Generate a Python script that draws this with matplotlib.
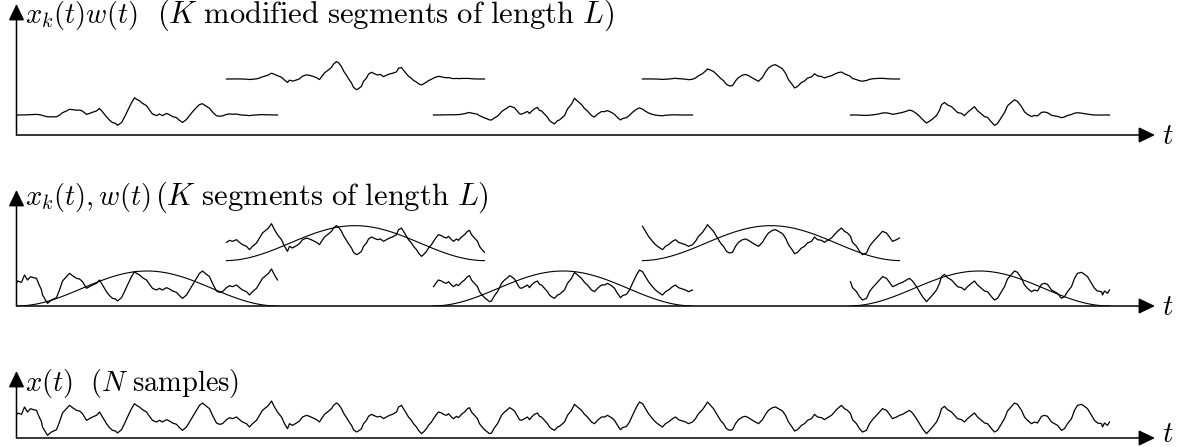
import numpy as np
import matplotlib
matplotlib.use("Agg")
import matplotlib.pyplot as plt
from matplotlib.patches import ArrowStyle

plt.rcParams["mathtext.fontset"] = "cm"

# Recorded signal x(t): sample time and amplitude (arbitrary units)
t_vals = [
    0, 1, 5, 8, 11, 14, 17, 20, 22, 25, 26, 29, 31, 35, 40, 43, 46, 50, 53, 56,
    60, 63, 66, 70, 73, 76, 80, 83, 86, 90, 93, 96, 99, 101, 105, 108, 111, 115, 118, 120,
    123, 126, 130, 133, 136, 140, 143, 146, 150, 153, 156, 160, 163, 166, 170, 173, 176, 180, 183, 186,
    190, 193, 196, 200, 203, 206, 210, 213, 216, 220, 223, 226, 230, 233, 236, 240, 243, 246, 250, 252,
    255, 258, 261, 265, 268, 271,
    273, 276, 280, 283, 286, 290, 293, 296, 300, 303, 305, 308, 311, 315, 317, 320, 322, 325, 327, 330,
    332, 335, 337, 340, 342, 345, 347, 350, 352, 355, 357, 361, 364, 367, 370, 373, 376, 380, 382, 385,
    387, 390, 392, 395, 397, 400, 402, 405, 407, 410, 412, 415, 417, 420, 422, 425, 427, 430, 432, 435,
    437, 440, 442, 445, 448, 451, 453, 455, 458, 461, 463, 465, 468, 471, 473, 475, 478, 481, 483, 485,
    488, 491, 493, 495, 498, 501, 503, 505, 508, 511, 513, 515, 518, 521, 523, 525, 528, 531, 533, 535,
    538, 541, 543, 546, 548,
    551, 555, 558, 561, 565, 568, 571, 575, 578, 581, 585, 588, 591, 595, 598, 601, 604, 606, 610, 613,
    616, 620, 623, 626, 629, 632, 636, 639, 642, 646, 649, 652, 656, 659, 662, 666, 669, 672, 676, 679,
    682, 686, 689, 691, 694, 697, 700, 704, 707, 710, 713, 716, 719, 722, 726, 729, 732, 736, 739, 742,
    746, 749, 752, 756, 759, 762, 766, 769, 772, 776, 778, 781, 785, 788, 791, 795, 798, 801, 805, 808,
    811, 815, 818, 821, 823,
    825, 828, 831, 834, 836, 840, 843, 846, 850, 853, 856, 860, 863, 866, 870, 873, 876, 880, 883, 886,
    890, 893, 896, 900, 903, 906, 910, 913, 916, 920, 923, 925, 928, 931, 935, 938, 941, 945, 948, 951,
    955, 958, 961, 965, 968, 971, 975, 978, 981, 985, 988, 991, 995, 998, 1001, 1005, 1008, 1011, 1015, 1018,
    1021, 1025, 1028, 1031, 1035, 1038, 1041, 1045, 1048, 1051, 1055, 1058, 1061, 1065, 1068, 1071, 1075, 1078, 1081, 1085,
    1086, 1088, 1091, 1093,
]
x_vals = [
    68, 75, 71, 93, 78, 88, 85, 83, 68, 48, 33, 18, 8, 18, 25, 48, 75, 88, 98, 91,
    83, 81, 73, 53, 58, 63, 68, 78, 63, 43, 31, 23, 21, 15, 25, 43, 63, 88, 103, 98,
    93, 85, 78, 65, 53, 48, 53, 48, 55, 51, 45, 41, 31, 23, 33, 48, 63, 83, 98, 105,
    95, 88, 68, 45, 41, 43, 55, 61, 58, 63, 55, 48, 43, 33, 43, 53, 68, 83, 93, 98,
    111, 93, 78, 63, 43, 28,
    43, 38, 45, 51, 63, 68, 65, 61, 55, 48, 58, 71, 78, 88, 98, 105, 101, 88, 75, 61,
    51, 38, 25, 18, 21, 28, 43, 53, 65, 71, 68, 63, 65, 58, 63, 68, 71, 78, 93, 98,
    88, 73, 63, 53, 43, 33, 23, 13, 18, 28, 38, 48, 58, 71, 78, 75, 71, 68, 73, 63,
    58, 65, 61, 71, 78, 88, 91, 78, 68, 58, 43, 35, 25, 18, 13, 15, 31, 43, 55, 68,
    78, 85, 91, 88, 81, 65, 55, 53, 58, 63, 55, 63, 71, 75, 65, 63, 53, 43, 33, 28,
    23, 33, 35, 43, 48,
    68, 83, 101, 93, 83, 71, 63, 48, 43, 53, 63, 63, 68, 61, 53, 38, 25, 31, 35, 48,
    68, 93, 108, 103, 88, 73, 58, 48, 41, 33, 43, 48, 58, 63, 55, 51, 48, 43, 48, 58,
    73, 85, 98, 108, 98, 88, 73, 53, 43, 28, 23, 25, 43, 55, 63, 65, 61, 53, 48, 43,
    55, 71, 83, 91, 93, 88, 81, 68, 48, 31, 21, 25, 38, 43, 53, 58, 71, 63, 61, 55,
    61, 68, 78, 88, 93,
    98, 88, 83, 73, 55, 43, 28, 18, 23, 43, 55, 68, 78, 88, 83, 71, 58, 63, 68, 71,
    78, 83, 75, 58, 43, 28, 13, 23, 33, 48, 68, 88, 95, 85, 78, 68, 58, 55, 48, 58,
    68, 75, 63, 53, 45, 43, 28, 18, 23, 43, 58, 81, 95, 105, 101, 83, 63, 53, 43, 48,
    45, 65, 68, 65, 48, 43, 38, 23, 28, 43, 58, 83, 98, 101, 95, 88, 68, 53, 45, 43,
    33, 45, 38, 48,
]

# Segmentation: K segments of length L, start of each segment
seg_starts = [0, 208, 416, 624, 832]
seg_len = 261
x_ref = 50.0  # level of x = 0 in the recorded units

W, H = 1179, 447
t = np.array(t_vals, dtype=float)
x = np.array(x_vals, dtype=float)

fig = plt.figure(figsize=(W / 100, H / 100), dpi=100)

head = ArrowStyle("-|>", head_length=0.5, head_width=0.24)


def panel(base_px, top_px, t_base_px, left_px=16.5, right_px=1155.0):
    """Axes whose x unit is one pixel of t and whose y unit is a third of a pixel."""
    ax = fig.add_axes([left_px / W, (H - base_px) / H,
                       (right_px - left_px) / W, (base_px - top_px) / H])
    ax.set_xlim(0, right_px - left_px)
    ax.set_ylim(0, (base_px - top_px) * 3)
    ax.axis("off")
    for end in [(1, 0), (0, 1)]:
        ax.annotate("", xy=end, xytext=(0, 0), xycoords="axes fraction",
                    arrowprops=dict(arrowstyle=head, color="black", lw=1.1,
                                    mutation_scale=20, shrinkA=0, shrinkB=0),
                    annotation_clip=False)
    fig.text(1162 / W, (H - t_base_px) / H, r"$t$", fontsize=21,
             ha="left", va="baseline")
    return ax


def title(x_px, base_px, s, size):
    fig.text(x_px / W, (H - base_px) / H, s, fontsize=size,
             ha="left", va="baseline")


def segment(k):
    m = (t >= seg_starts[k]) & (t <= seg_starts[k] + seg_len)
    ts = t[m]
    w = 0.5 - 0.5 * np.cos(2 * np.pi * (ts - seg_starts[k]) / seg_len)
    return ts, x[m], w


# Top: windowed segments
ax1 = panel(135, 4, 144)
for k in range(len(seg_starts)):
    ts, xs, w = segment(k)
    level = 168 if k % 2 else 60
    ax1.plot(ts, (xs - x_ref) * w + level, color="black", lw=0.9)
title(25, 23, r"$x_k(t)w(t)$", 20.5)
title(157, 23, r"$(K\ \mathrm{modified\ segments\ of\ length}\ L)$", 22)

# Middle: raw segments with the window drawn over them
ax2 = panel(306, 190, 315)
for k in range(len(seg_starts)):
    ts, xs, w = segment(k)
    level = 136 if k % 2 else 0
    ax2.plot(ts, xs + level, color="black", lw=0.9)
    ax2.plot(ts, 105 * w + level, color="black", lw=0.8)
title(25, 205, r"$x_k(t), w(t)$", 20.5)
title(155, 205, r"$(K\ \mathrm{segments\ of\ length}\ L)$", 22)

# Bottom: full record
ax3 = panel(438, 371, 442)
ax3.plot(t, x, color="black", lw=0.9)
title(25, 391, r"$x(t)$", 20.5)
title(90, 391, r"$(N\ \mathrm{samples})$", 20.5)

fig.savefig("out.png", dpi=100, facecolor="white")
